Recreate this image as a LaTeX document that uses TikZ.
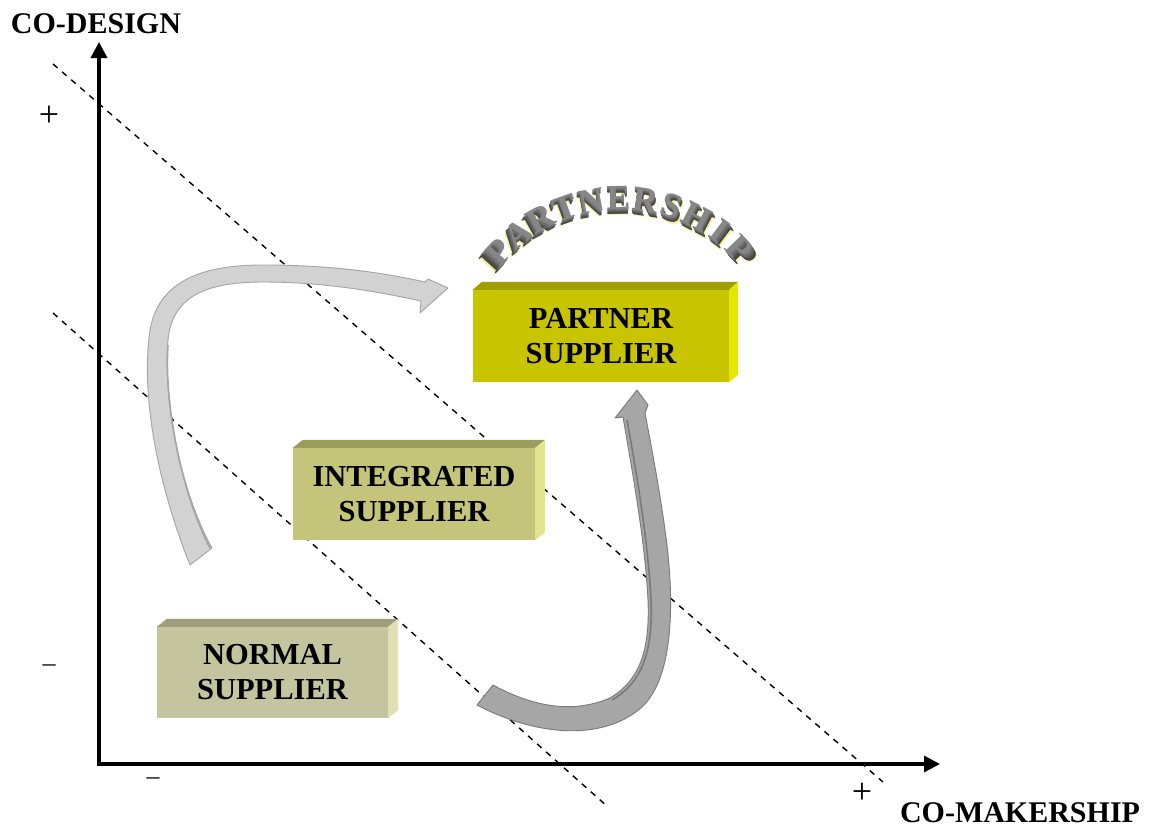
\documentclass[tikz,border=0pt]{standalone}
\usepackage{fontspec}
\setmainfont{Liberation Serif}
\usetikzlibrary{calc,arrows.meta}

\definecolor{pfront}{HTML}{C8C400}
\definecolor{ptop}{HTML}{A19F00}
\definecolor{pside}{HTML}{E6E600}
\definecolor{ifront}{HTML}{C4C47A}
\definecolor{itop}{HTML}{9C9C5E}
\definecolor{iside}{HTML}{E4E48E}
\definecolor{nfront}{HTML}{C4C49E}
\definecolor{ntop}{HTML}{9E9E7C}
\definecolor{nside}{HTML}{E0E0B4}
\definecolor{ribbonA}{HTML}{D2D2D2}
\definecolor{ribbonAedge}{HTML}{A4A4A4}
\definecolor{ribbonB}{HTML}{A6A6A6}
\definecolor{ribbonBedge}{HTML}{7A7A7A}
\definecolor{wordface}{HTML}{F2F29A}

\begin{document}
\begin{tikzpicture}[x=1pt,y=-1pt,
  axis/.style={line width=3.5pt,-{Triangle[width=16pt,length=16pt]}},
  guide/.style={line width=1.4pt,dash pattern=on 6pt off 6pt},
  lbl/.style={font=\fontsize{30}{36}\selectfont\bfseries,inner sep=0pt},
  plussign/.style={font=\fontsize{36}{40}\selectfont,inner sep=0pt},
  minussign/.style={font=\fontsize{26}{30}\selectfont,inner sep=0pt},
  sbox/.style={font=\fontsize{30.5}{35}\selectfont\bfseries,align=center,inner sep=0pt},
  wfont/.style={font=\fontsize{35}{40}\selectfont\bfseries,inner sep=0pt,anchor=center},
  ribbon/.style={line width=0.9pt,line join=round}]
\useasboundingbox (0,0) rectangle (1150,827);

% dashed boundaries between supplier levels
\coordinate (g1a) at (53,64);
\coordinate (g1b) at (883,782);
\coordinate (g2a) at (53,313);
\coordinate (g2b) at (608,807);
\draw[guide] (g1a) -- (g1b);
\draw[guide] (g2a) -- (g2b);

% axes
\coordinate (O) at (99,764);
\coordinate (Ox) at (97.25,764);
\coordinate (ytip) at (99,42);
\coordinate (xtip) at (940,764);
\draw[axis] (O) -- (ytip);
\draw[axis] (Ox) -- (xtip);

\node[lbl] (codesign) at (96,24) {CO-DESIGN};
\node[lbl] (comaker) at (1020,813) {CO-MAKERSHIP};
\node[plussign] (yplus) at (49,116) {+};
\node[minussign] (yminus) at (49,668) {–};
\node[minussign] (xminus) at (153,781) {–};
\node[plussign] (xplus) at (862,793) {+};

% bevelled supplier boxes
\node[sbox,fill=pfront,minimum width=256pt,minimum height=92pt] (partner) at (601,336) {PARTNER\\SUPPLIER};
\fill[ptop] (partner.north west) -- ++(9,-8) -- ($(partner.north east)+(9,-8)$) -- (partner.north east) -- cycle;
\fill[pside] (partner.north east) -- ++(9,-8) -- ($(partner.south east)+(9,-8)$) -- (partner.south east) -- cycle;

\node[sbox,fill=ifront,minimum width=242pt,minimum height=92pt] (integrated) at (414,494) {INTEGRATED\\SUPPLIER};
\fill[itop] (integrated.north west) -- ++(10,-8) -- ($(integrated.north east)+(10,-8)$) -- (integrated.north east) -- cycle;
\fill[iside] (integrated.north east) -- ++(10,-8) -- ($(integrated.south east)+(10,-8)$) -- (integrated.south east) -- cycle;

\node[sbox,fill=nfront,minimum width=231pt,minimum height=91pt] (normal) at (272.5,672.5) {NORMAL\\SUPPLIER};
\fill[ntop] (normal.north west) -- ++(10,-8) -- ($(normal.north east)+(10,-8)$) -- (normal.north east) -- cycle;
\fill[nside] (normal.north east) -- ++(10,-8) -- ($(normal.south east)+(10,-8)$) -- (normal.south east) -- cycle;

% ribbon arrow: normal -> partner (over the top)
\filldraw[ribbon,fill=ribbonA,draw=ribbonAedge]
  (190,565) .. controls (160,490) and (140,400) .. (150,330)
  .. controls (158,285) and (195,265) .. (263,265)
  .. controls (330,265) and (380,272) .. (425,282)
  -- (428,279) -- (448,288) -- (420,313) -- (421,301)
  .. controls (370,290) and (320,282) .. (263,282)
  .. controls (200,282) and (172,300) .. (168,340)
  .. controls (163,400) and (180,490) .. (212,548) -- cycle;
\draw[ribbonAedge,line width=1.6pt]
  (168,345) .. controls (164,400) and (180,490) .. (210,548);

% ribbon arrow: normal -> partner (underneath)
\filldraw[ribbon,fill=ribbonB,draw=ribbonBedge]
  (477,705) .. controls (540,738) and (605,740) .. (642,707)
  .. controls (674,677) and (675,600) .. (665,530)
  .. controls (658,480) and (650,440) .. (645,413)
  -- (648,405) -- (637,390) -- (615,418) -- (623,417)
  .. controls (632,470) and (645,540) .. (648,600)
  .. controls (650,650) and (640,680) .. (610,698)
  .. controls (570,715) and (530,705) .. (493,685) -- cycle;
\draw[ribbonBedge,line width=1.6pt]
  (627,420) .. controls (636,470) and (648,540) .. (651,600)
  .. controls (653,650) and (643,682) .. (612,700);

% arched, extruded PARTNERSHIP lettering
\coordinate (V) at (621,60);
\foreach \ch [count=\i from 0] in {P,A,R,T,N,E,R,S,H,I,P} {
  \pgfmathsetmacro\ang{137.9-\i*9.4}
  \coordinate (L\i) at ({621+172*cos(\ang)},{376-172*sin(\ang)});
  \node[wfont,text=wordface,rotate=\ang-90] at (L\i) {\ch};
  \foreach \t/\c in {0.008/74,0.015/70,0.022/64,0.029/58,0.036/52,0.043/47} {
    \node[wfont,text=black!\c!white,rotate=\ang-90] at ($(L\i)!\t!(V)$) {\ch};
  }
}
\end{tikzpicture}
\end{document}
